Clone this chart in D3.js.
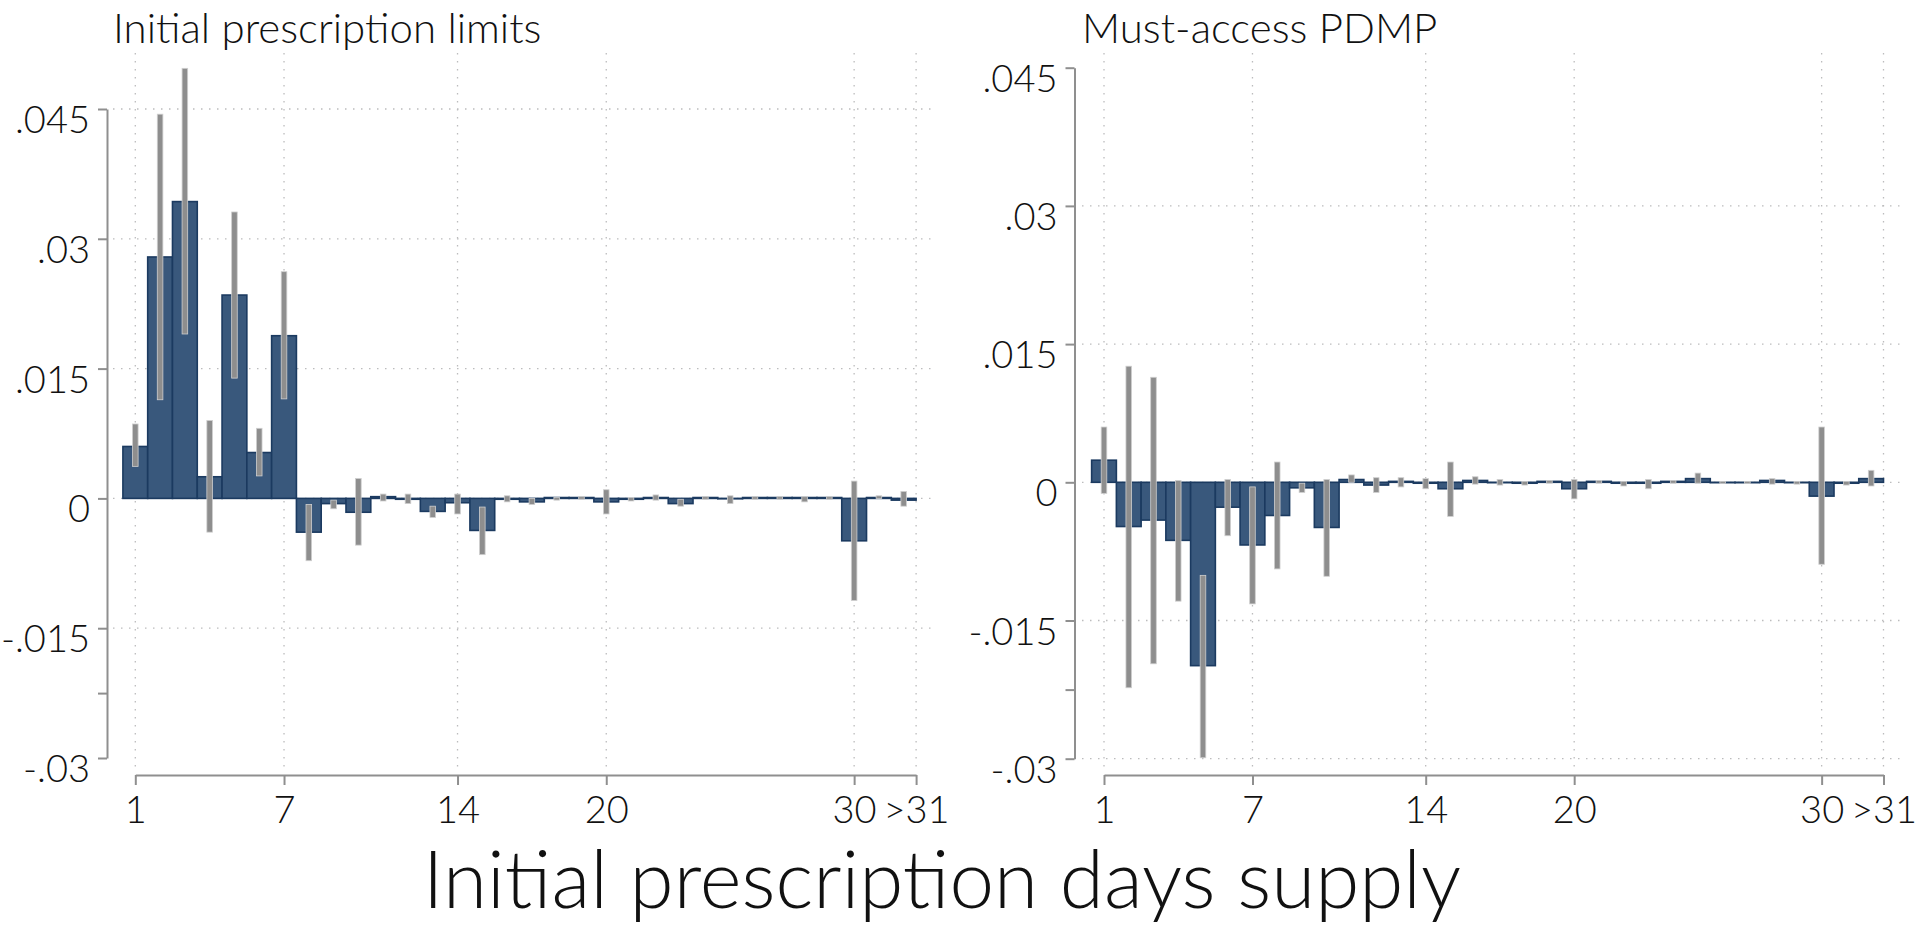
<!DOCTYPE html>
<html>
<head>
<meta charset="utf-8">
<script src="https://cdn.jsdelivr.net/npm/d3@7"></script>
<style>
  html, body { margin: 0; padding: 0; background: #fff; }
  svg { display: block; font-family: Lato, 'Open Sans', sans-serif; font-weight: 300; }
</style>
</head>
<body>
<div id="chart"></div>
<script>
// days supply categories (32 = ">31")
const days = d3.range(1, 33);
const xTickValues = [1, 7, 14, 20, 30, 32.5];
const xTickLabels = ['1', '7', '14', '20', '30', '>31'];
const yTickValues = [-0.03, -0.015, 0, 0.015, 0.03, 0.045];
const yTickLabels = ['-.03', '-.015', '0', '.015', '.03', '.045'];
const yMinorTicks = [-0.0225];

// Initial prescription limits
const limitsCoef = [0.0060, 0.0279, 0.0343, 0.0025, 0.0235, 0.0053, 0.0188, -0.0039, -0.0006, -0.0016,
  0.0002, -0.0001, -0.0015, -0.0005, -0.0037, -0.0001, -0.0004, 0.0001, 0.0001, -0.0004,
  -0.0001, 0.0001, -0.0006, 0.0001, 0.0000, 0.0001, 0.0001, 0.0001, 0.0001, -0.0049, 0.0001, -0.0002];
const limitsLo = [0.0037, 0.0114, 0.0190, -0.0039, 0.0139, 0.0026, 0.0115, -0.0072, -0.0012, -0.0054,
  -0.0003, -0.0006, -0.0022, -0.0018, -0.0065, -0.0004, -0.0007, -0.0002, -0.0001, -0.0018,
  -0.0003, -0.0002, -0.0009, -0.0001, -0.0006, -0.0001, -0.0001, -0.0004, -0.0001, -0.0118, 0.0000, -0.0009];
const limitsHi = [0.0086, 0.0444, 0.0497, 0.0090, 0.0331, 0.0081, 0.0262, -0.0007, -0.0002, 0.0023,
  0.0005, 0.0005, -0.0009, 0.0005, -0.0010, 0.0003, 0.0000, 0.0001, 0.0002, 0.0010,
  0.0001, 0.0004, -0.0001, 0.0002, 0.0003, 0.0002, 0.0002, 0.0002, 0.0002, 0.0020, 0.0003, 0.0008];

// Must-access PDMP
const pdmpCoef = [0.0024, -0.0048, -0.0041, -0.0063, -0.0199, -0.0027, -0.0068, -0.0036, -0.0006, -0.0049,
  0.0003, -0.0003, 0.0001, -0.0001, -0.0007, 0.0002, 0.0000, -0.0001, 0.0001, -0.0007,
  0.0001, -0.0001, -0.0001, 0.0001, 0.0004, 0.0000, 0.0000, 0.0002, 0.0000, -0.0015, -0.0001, 0.0004];
const pdmpLo = [-0.0012, -0.0223, -0.0197, -0.0129, -0.0299, -0.0058, -0.0132, -0.0094, -0.0011, -0.0102,
  0.0000, -0.0011, -0.0005, -0.0007, -0.0037, -0.0002, -0.0003, -0.0003, -0.0001, -0.0018,
  -0.0001, -0.0004, -0.0007, -0.0001, -0.0001, -0.0001, -0.0001, -0.0002, -0.0002, -0.0089, -0.0003, -0.0004];
const pdmpHi = [0.0060, 0.0126, 0.0114, 0.0002, -0.0101, 0.0003, -0.0005, 0.0022, -0.0001, 0.0003,
  0.0008, 0.0005, 0.0005, 0.0004, 0.0022, 0.0006, 0.0003, 0.0001, 0.0002, 0.0003,
  0.0002, 0.0001, 0.0003, 0.0002, 0.0010, 0.0001, 0.0001, 0.0004, 0.0001, 0.0060, 0.0001, 0.0013];

const W = 1920, H = 933;
const FS = 38;
const BAR_FILL = '#39587c', BAR_LINE = '#1b3a60', CI_COL = '#8e8e8e', AXIS_COL = '#8f8f8f', GRID_COL = '#bcbcbd';

const svg = d3.select('#chart').append('svg').attr('width', W).attr('height', H);

// layout of each panel (pixels)
const panels = [
  { title: 'Initial prescription limits', coef: limitsCoef, lo: limitsLo, hi: limitsHi,
    axisX: 107, x0: 135.3, x1: 916.1, yTop: 109, yBot: 758, gridL: 113, gridR: 934,
    hGrid: [-0.015, 0, 0.015, 0.03, 0.045] },
  { title: 'Must-access PDMP', coef: pdmpCoef, lo: pdmpLo, hi: pdmpHi,
    axisX: 1074.5, x0: 1104, x1: 1883.5, yTop: 67.7, yBot: 758.7, gridL: 1082, gridR: 1900,
    hGrid: [-0.03, -0.015, 0, 0.015, 0.03] }
];
const axisY = 775;

panels.forEach((p) => {
  const x = d3.scaleLinear().domain([1, 32.5]).range([p.x0, p.x1]);
  const y = d3.scaleLinear().domain([-0.03, 0.045]).range([p.yBot, p.yTop]);
  const g = svg.append('g');

  // dotted grid
  g.append('g').selectAll('line').data(p.hGrid).join('line')
    .attr('x1', p.gridL).attr('x2', p.gridR)
    .attr('y1', (d) => y(d)).attr('y2', (d) => y(d))
    .attr('stroke', GRID_COL).attr('stroke-width', 1.3).attr('stroke-dasharray', '1.5,6.5');
  g.append('g').selectAll('line').data(xTickValues).join('line')
    .attr('x1', (d) => x(d)).attr('x2', (d) => x(d))
    .attr('y1', 53).attr('y2', 770)
    .attr('stroke', GRID_COL).attr('stroke-width', 1.3).attr('stroke-dasharray', '1.5,6.5');

  // bars (zero-height bars still show as an outline at 0)
  g.append('g').selectAll('rect').data(days).join('rect')
    .attr('x', (d) => x(d - 0.5))
    .attr('width', (d) => x(d + 0.5) - x(d - 0.5))
    .attr('y', (d, i) => y(Math.max(0, p.coef[i])))
    .attr('height', (d, i) => Math.max(0.4, Math.abs(y(p.coef[i]) - y(0))))
    .attr('fill', BAR_FILL).attr('stroke', BAR_LINE).attr('stroke-width', 1.6);

  // confidence intervals
  g.append('g').selectAll('rect').data(days).join('rect')
    .attr('x', (d) => x(d) - 2.8)
    .attr('width', 5.6)
    .attr('y', (d, i) => y(p.hi[i]))
    .attr('height', (d, i) => Math.max(2, y(p.lo[i]) - y(p.hi[i])))
    .attr('fill', CI_COL).attr('stroke', '#cfcfcf').attr('stroke-width', 0.8);

  // y axis
  const yAxis = g.append('g').attr('transform', `translate(${p.axisX},0)`)
    .call(d3.axisLeft(y).tickValues(yTickValues).tickSize(9).tickSizeOuter(0).tickPadding(8)
      .tickFormat((d, i) => yTickLabels[i]));
  g.append('g').attr('transform', `translate(${p.axisX},0)`)
    .call(d3.axisLeft(y).tickValues(yMinorTicks).tickSize(9).tickFormat(''))
    .select('.domain').remove();

  // x axis
  const xAxis = g.append('g').attr('transform', `translate(0,${axisY})`)
    .call(d3.axisBottom(x).tickValues(xTickValues).tickSize(10).tickSizeOuter(0).tickPadding(14)
      .tickFormat((d, i) => xTickLabels[i]));

  g.selectAll('.domain, .tick line').attr('stroke', AXIS_COL).attr('stroke-width', 2);
  g.selectAll('.tick text').attr('fill', '#111').attr('font-size', FS)
    .attr('font-family', 'Lato, sans-serif').attr('font-weight', 300);
  yAxis.selectAll('.tick text').attr('dy', '0.62em');
  xAxis.selectAll('.tick text').attr('dy', '0.62em');

  // panel title
  svg.append('text').attr('x', p.gridL).attr('y', 43)
    .attr('font-size', 42).attr('fill', '#111').text(p.title);
});

svg.append('text').attr('x', 942).attr('y', 908).attr('text-anchor', 'middle')
  .attr('font-size', 80).attr('fill', '#111').text('Initial prescription days supply');
</script>
</body>
</html>
